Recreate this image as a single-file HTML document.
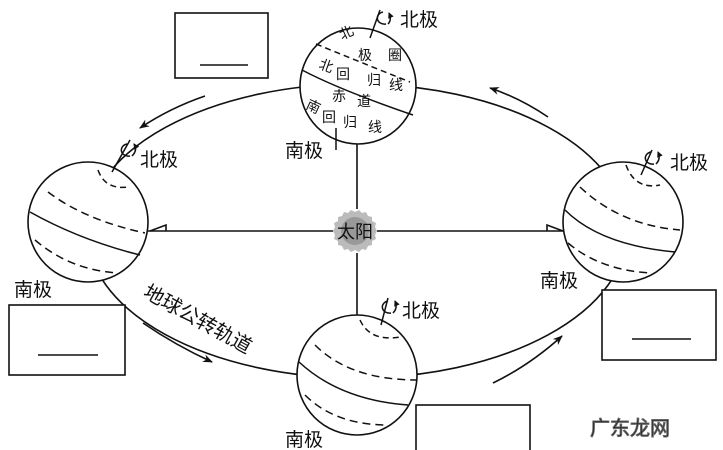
<!DOCTYPE html>
<html><head><meta charset="utf-8"><style>
body{margin:0;background:#fff;}
svg{display:block}
text{font-family:"Liberation Sans","Noto Sans CJK SC",sans-serif;fill:#111}
</style></head><body>
<svg width="723" height="450" viewBox="0 0 723 450" xmlns="http://www.w3.org/2000/svg">
<defs>
<marker id="ah" markerWidth="10" markerHeight="8" refX="9" refY="4" orient="auto" markerUnits="userSpaceOnUse"><path d="M0,0 L10,4 L0,8 L3,4 Z" fill="#111"/></marker>
<marker id="sa" markerWidth="6" markerHeight="6" refX="5" refY="3" orient="auto" markerUnits="userSpaceOnUse"><path d="M0,0 L6,3 L0,6 Z" fill="#111"/></marker>
</defs>
<g stroke="#111" stroke-width="1.6" fill="none">
<ellipse cx="357" cy="231" rx="270" ry="147"/>
<line x1="148" y1="231" x2="333" y2="231"/>
<line x1="377" y1="231" x2="563" y2="231"/>
<line x1="357" y1="143" x2="357" y2="209"/>
<line x1="357" y1="253" x2="357" y2="315"/>
<path d="M150,231 L166,225 L166,231" />
<path d="M563,231 L547,225 L547,231" />
<path d="M205,96 Q170,108 140,128" marker-end="url(#ah)"/>
<path d="M548,117 Q520,98 490,88" marker-end="url(#ah)"/>
<path d="M143,323 Q175,345 212,362" marker-end="url(#ah)"/>
<path d="M493,383 Q530,365 562,336" marker-end="url(#ah)"/>
<rect x="175" y="13" width="93" height="65" fill="#fff"/>
<line x1="200" y1="65" x2="248" y2="65"/>
<rect x="9" y="305" width="116" height="70" fill="#fff"/>
<line x1="38" y1="355" x2="98" y2="355"/>
<rect x="602" y="290" width="114" height="70" fill="#fff"/>
<line x1="632" y1="339" x2="691" y2="339"/>
<rect x="416" y="405" width="114" height="60" fill="#fff"/>
</g>
<g stroke="#111" stroke-width="1.6" fill="#fff">
<circle cx="358" cy="86" r="58"/>
<circle cx="88" cy="222" r="60"/>
<circle cx="623" cy="222" r="60"/>
<circle cx="357" cy="375" r="60"/>
</g>
<g stroke="#111" stroke-width="1.5" fill="none">
<path d="M302,70 Q340,90 413,115"/>
<path d="M316,44 Q360,62 410,82" stroke-dasharray="6,4"/>
<path d="M30,212 Q80,240 140,255"/>
<path d="M48,192 Q85,220 145,233" stroke-dasharray="8,5"/>
<path d="M35,240 Q70,270 118,273" stroke-dasharray="8,5"/>
<path d="M98,170 Q105,190 128,187" stroke-dasharray="6,4"/>
<path d="M565,210 Q600,245 675,252"/>
<path d="M580,187 Q620,225 680,230" stroke-dasharray="8,5"/>
<path d="M568,243 Q600,270 650,273" stroke-dasharray="8,5"/>
<path d="M626,165 Q635,190 660,185" stroke-dasharray="6,4"/>
<path d="M299,362 Q340,400 408,405"/>
<path d="M315,345 Q350,380 417,380" stroke-dasharray="8,5"/>
<path d="M305,395 Q335,425 388,425" stroke-dasharray="8,5"/>
<path d="M360,320 Q370,342 400,337" stroke-dasharray="6,4"/>
<line x1="380" y1="10" x2="370" y2="38"/>
<line x1="130" y1="140" x2="112" y2="172"/>
<line x1="652" y1="150" x2="641" y2="175"/>
<line x1="388" y1="298" x2="381" y2="325"/>
<line x1="336" y1="128" x2="336" y2="150"/>
<path d="M383,12 A7,6 0 1 0 386,24" />
<path d="M388,24 Q392,20 389,13" marker-end="url(#sa)"/>
<path d="M127,144 A7,6 0 1 0 130,156"/>
<path d="M132,156 Q138,150 134,144" marker-end="url(#sa)"/>
<path d="M651,152 A7,6 0 1 0 654,164"/>
<path d="M656,164 Q661,159 658,152" marker-end="url(#sa)"/>
<path d="M388,301 A7,6 0 1 0 391,313"/>
<path d="M393,313 Q398,308 395,301" marker-end="url(#sa)"/>
</g>
<polygon fill="#bbb" points="
377,231 375,235 376,239 372,241 372,245 368,246 366,250 362,249 359,252 355,250 351,252 348,249 344,250 342,246 338,245 338,241 334,239 335,235 333,231 335,227 334,223 338,221 338,217 342,216 344,212 348,213 351,210 355,212 359,210 362,213 366,212 368,216 372,217 372,221 376,223 375,227"/>
<circle cx="355" cy="231" r="14" fill="#999"/>
<text x="355" y="238" font-size="18" text-anchor="middle" fill="#111">太阳</text>
<g font-size="14">
<text x="342" y="40" transform="rotate(-25 342 40)">北</text>
<text x="358" y="60">极</text><text x="388" y="60">圈</text>
<text x="318" y="68" transform="rotate(20 318 68)">北</text><text x="336" y="79">回</text><text x="367" y="85">归</text><text x="389" y="90">线</text>
<text x="332" y="101">赤</text><text x="357" y="106">道</text>
<text x="305" y="108" transform="rotate(25 305 108)">南</text><text x="322" y="122">回</text><text x="343" y="127">归</text><text x="368" y="132">线</text>
</g>
<g font-size="19">
<text x="400" y="26">北极</text>
<text x="285" y="157">南极</text>
<text x="140" y="166">北极</text>
<text x="14" y="296">南极</text>
<text x="670" y="169">北极</text>
<text x="540" y="287">南极</text>
<text x="402" y="317">北极</text>
<text x="285" y="446">南极</text>
<text x="142" y="296" font-size="20" transform="rotate(29 142 296)">地球公转轨道</text>
</g>
<text x="590" y="435" font-size="20" fill="#fff" stroke="#666" stroke-width="1">广东龙网</text>
</svg>
</body></html>
